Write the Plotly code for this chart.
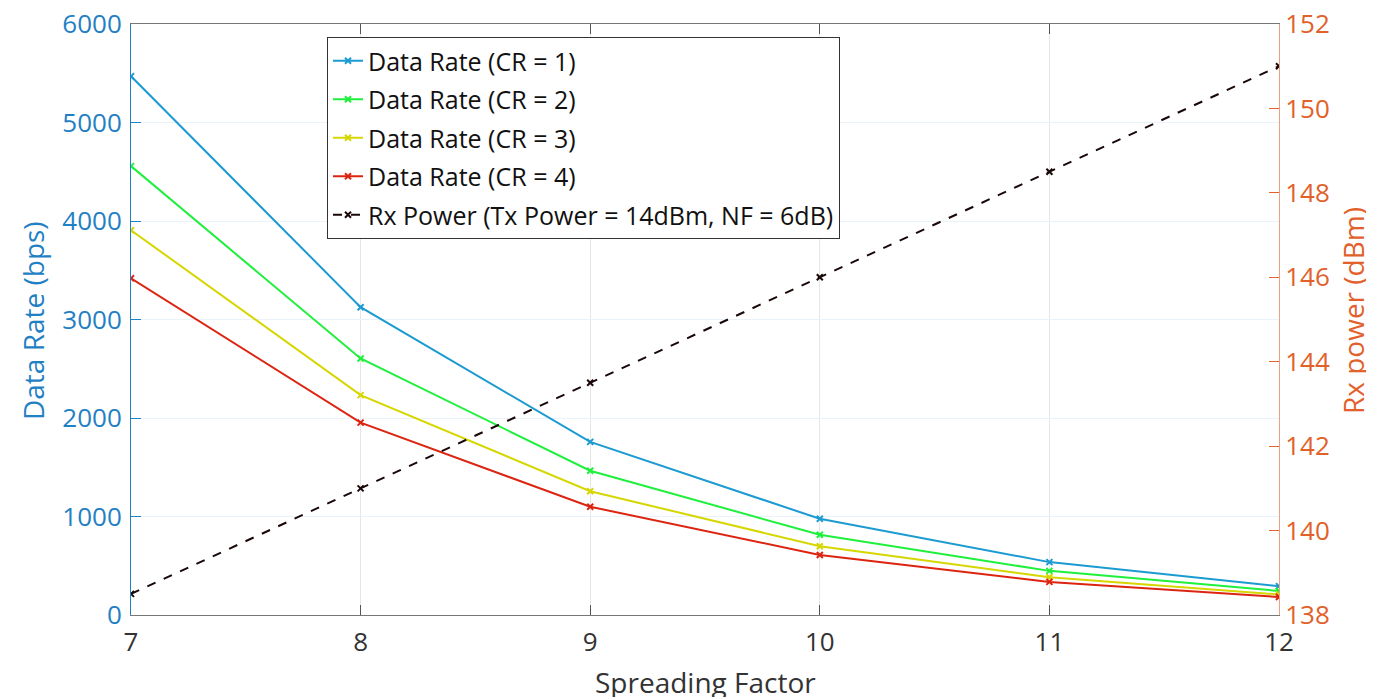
import plotly.graph_objects as go

spreading_factor = [7, 8, 9, 10, 11, 12]
rate_cr1 = [5469, 3125, 1758, 977, 537, 293]
rate_cr2 = [4557, 2604, 1465, 814, 448, 244]
rate_cr3 = [3906, 2232, 1256, 698, 384, 209]
rate_cr4 = [3418, 1953, 1099, 610, 336, 183]
rx_power = [138.5, 141, 143.5, 146, 148.5, 151]

series_names = ["Data Rate (CR = 1)", "Data Rate (CR = 2)", "Data Rate (CR = 3)", "Data Rate (CR = 4)"]
series_colors = ["#1b9bd1", "#1ef03c", "#d6d600", "#dc2410"]
rx_name = "Rx Power (Tx Power = 14dBm, NF = 6dB)"

BLUE = "#1f80c4"
ORANGE = "#e2602a"
FONT = "Open Sans"

# page body has an 8px margin, so the figure is drawn 8px in from the window edge
OFF = 8
W, H = 1374 - OFF, 697 - OFF
# plot area in window pixels: x 131..1279, y 24..615
PL, PR, PT, PB = 131, 1279, 24, 615
L, T = PL - OFF, PT - OFF
R, B = W - (PR - OFF), H - (PB - OFF)
PW, PH = PR - PL, PB - PT


def px_x(x):
    return (x - PL) / PW


def px_y(y):
    return (PB - y) / PH


fig = go.Figure()
for i, (name, vals, col) in enumerate(zip(series_names, [rate_cr1, rate_cr2, rate_cr3, rate_cr4], series_colors)):
    fig.add_trace(go.Scatter(
        x=spreading_factor, y=vals, name=name, mode="lines+markers",
        line=dict(color=col, width=2),
        marker=dict(symbol="x-thin", size=6, line=dict(color=col, width=2), color=col),
        yaxis="y", legendgroup=f"g{i}",
    ))
fig.add_trace(go.Scatter(
    x=spreading_factor, y=rx_power, name=rx_name, mode="lines+markers",
    line=dict(color="#1a0808", width=2, dash="dash"),
    marker=dict(symbol="x-thin", size=6, line=dict(color="#1a0808", width=2), color="#1a0808"),
    yaxis="y2", legendgroup="g4",
))

fig.update_layout(
    width=W, height=H,
    margin=dict(l=L, r=R, t=T, b=B, autoexpand=False),
    paper_bgcolor="white", plot_bgcolor="white",
    font=dict(family=FONT, size=26, color="#333333"),
    showlegend=True,
    legend=dict(
        x=px_x(327), y=px_y(37), xanchor="left", yanchor="top",
        bgcolor="white", bordercolor="#333333", borderwidth=1,
        font=dict(family=FONT, size=25, color="#111111"),
        tracegroupgap=3, itemwidth=30,
    ),
    xaxis=dict(
        range=[7, 12], tickvals=spreading_factor, ticktext=[str(v) for v in spreading_factor],
        ticks="inside", ticklen=10, tickcolor="#555555",
        showline=True, linecolor="#777777", linewidth=1, mirror="ticks",
        showgrid=True, gridcolor="#e6e6e6", gridwidth=1, zeroline=False,
        tickfont=dict(size=26, color="#333333"), automargin=False,
        ticklabeloverflow="allow", ticklabelstandoff=4,
    ),
    yaxis=dict(
        range=[0, 6000], tickvals=[0, 1000, 2000, 3000, 4000, 5000, 6000],
        ticks="inside", ticklen=10, tickcolor=BLUE,
        showline=True, linecolor=BLUE, linewidth=1,
        showgrid=True, gridcolor="#eaf2fa", gridwidth=1, zeroline=False,
        tickfont=dict(size=26, color=BLUE), automargin=False,
        ticklabeloverflow="allow", ticklabelstandoff=3,
    ),
    yaxis2=dict(
        range=[138, 152], tickvals=[138, 140, 142, 144, 146, 148, 150, 152],
        overlaying="y", side="right",
        ticks="inside", ticklen=10, tickcolor=ORANGE,
        showline=True, linecolor="#f0a080", linewidth=1,
        showgrid=False, zeroline=False,
        tickfont=dict(size=26, color=ORANGE), automargin=False,
        ticklabeloverflow="allow",
    ),
    annotations=[
        dict(text="Data Rate (bps)", xref="paper", yref="paper", x=px_x(33), y=px_y(320),
             xanchor="center", yanchor="middle", textangle=-90, showarrow=False,
             font=dict(family=FONT, size=28, color=BLUE)),
        dict(text="Rx power (dBm)", xref="paper", yref="paper", x=px_x(1353), y=px_y(311),
             xanchor="center", yanchor="middle", textangle=-90, showarrow=False,
             font=dict(family=FONT, size=28, color=ORANGE)),
        dict(text="Spreading Factor", xref="paper", yref="paper", x=px_x(705), y=px_y(682),
             xanchor="center", yanchor="middle", showarrow=False,
             font=dict(family=FONT, size=28, color="#333333")),
    ],
)

fig.write_html("out.html")
